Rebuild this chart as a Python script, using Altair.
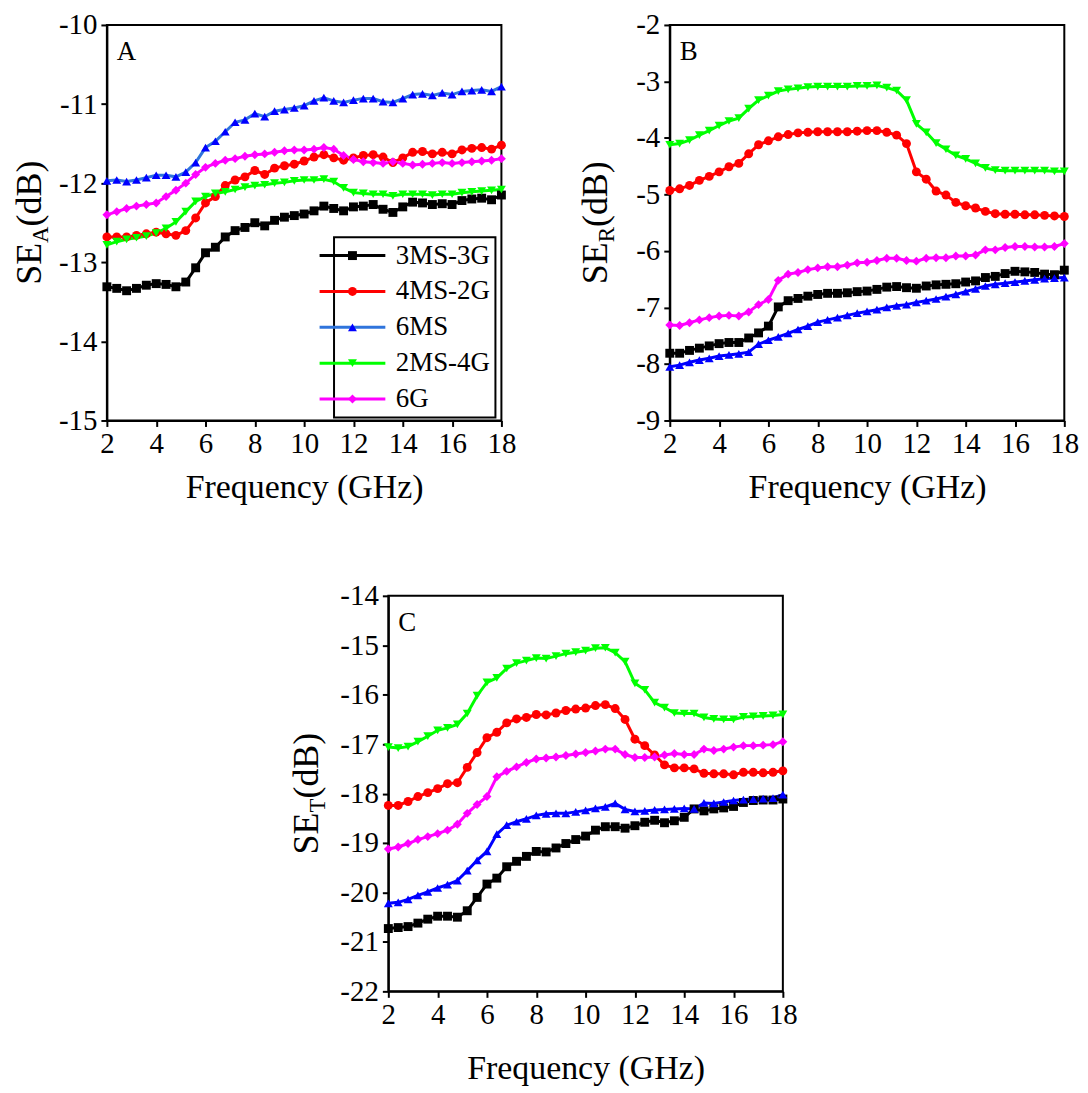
import altair as alt
import pandas as pd

FONT = "Liberation Serif"

freq = [2.0, 2.4, 2.8, 3.2, 3.6, 4.0, 4.4, 4.8, 5.2, 5.6,
        6.0, 6.4, 6.8, 7.2, 7.6, 8.0, 8.4, 8.8, 9.2, 9.6,
        10.0, 10.4, 10.8, 11.2, 11.6, 12.0, 12.4, 12.8, 13.2, 13.6,
        14.0, 14.4, 14.8, 15.2, 15.6, 16.0, 16.4, 16.8, 17.2, 17.6,
        18.0]

names = ["3MS-3G", "4MS-2G", "6MS", "2MS-4G", "6G"]
colors = ["#000000", "#ff0000", "#0000ff", "#00ff00", "#ff00ff"]
line_colors_a = ["#000000", "#ff0000", "#2f74dc", "#00ff00", "#ff00ff"]
shapes = ["square", "circle", "triangle-up", "triangle-down", "diamond"]

# ---- Panel A : SE_A ----
sea_3ms3g = [-13.31, -13.33, -13.36, -13.33, -13.29, -13.27, -13.28, -13.31, -13.25, -13.07,
             -12.88, -12.81, -12.68, -12.60, -12.56, -12.50, -12.54, -12.47, -12.43, -12.41,
             -12.39, -12.35, -12.29, -12.32, -12.35, -12.30, -12.29, -12.27, -12.33, -12.37,
             -12.30, -12.24, -12.25, -12.27, -12.26, -12.27, -12.22, -12.20, -12.19, -12.21,
             -12.15]
sea_4ms2g = [-12.68, -12.68, -12.68, -12.66, -12.64, -12.62, -12.64, -12.66, -12.60, -12.44,
             -12.25, -12.17, -12.03, -11.96, -11.92, -11.84, -11.89, -11.81, -11.78, -11.76,
             -11.72, -11.67, -11.64, -11.68, -11.71, -11.68, -11.65, -11.64, -11.67, -11.74,
             -11.68, -11.61, -11.60, -11.63, -11.61, -11.63, -11.58, -11.56, -11.55, -11.57,
             -11.52]
sea_6ms = [-11.97, -11.96, -11.98, -11.96, -11.93, -11.90, -11.90, -11.92, -11.86, -11.74,
           -11.55, -11.47, -11.35, -11.23, -11.20, -11.12, -11.16, -11.09, -11.07, -11.05,
           -11.02, -10.96, -10.92, -10.96, -10.98, -10.95, -10.93, -10.93, -10.97, -10.98,
           -10.93, -10.88, -10.87, -10.89, -10.86, -10.88, -10.84, -10.83, -10.82, -10.84,
           -10.78]
sea_2ms4g = [-12.78, -12.74, -12.71, -12.69, -12.67, -12.63, -12.57, -12.49, -12.36, -12.23,
             -12.17, -12.13, -12.11, -12.08, -12.05, -12.03, -12.02, -12.00, -11.99, -11.97,
             -11.96, -11.96, -11.95, -11.98, -12.06, -12.12, -12.13, -12.14, -12.14, -12.16,
             -12.14, -12.14, -12.14, -12.15, -12.14, -12.14, -12.12, -12.11, -12.10, -12.09,
             -12.08]
sea_6g = [-12.40, -12.36, -12.32, -12.29, -12.27, -12.25, -12.17, -12.09, -12.00, -11.89,
          -11.80, -11.75, -11.71, -11.69, -11.66, -11.64, -11.63, -11.61, -11.59, -11.58,
          -11.58, -11.57, -11.55, -11.57, -11.65, -11.70, -11.73, -11.74, -11.75, -11.73,
          -11.75, -11.77, -11.76, -11.75, -11.74, -11.75, -11.74, -11.73, -11.72, -11.71,
          -11.69]

# ---- Panel B : SE_R ----
ser_3ms3g = [-7.81, -7.81, -7.76, -7.72, -7.68, -7.64, -7.62, -7.62, -7.54, -7.45,
             -7.33, -6.99, -6.88, -6.84, -6.80, -6.77, -6.75, -6.75, -6.74, -6.72,
             -6.71, -6.68, -6.64, -6.63, -6.65, -6.66, -6.62, -6.60, -6.59, -6.58,
             -6.55, -6.53, -6.47, -6.45, -6.40, -6.36, -6.37, -6.38, -6.41, -6.42,
             -6.34]
ser_4ms2g = [-4.93, -4.90, -4.84, -4.75, -4.68, -4.60, -4.51, -4.45, -4.28, -4.12,
             -4.05, -3.98, -3.94, -3.91, -3.90, -3.89, -3.89, -3.89, -3.89, -3.88,
             -3.87, -3.87, -3.90, -3.95, -4.10, -4.60, -4.73, -4.94, -5.01, -5.14,
             -5.20, -5.24, -5.30, -5.34, -5.35, -5.35, -5.36, -5.36, -5.37, -5.38,
             -5.39]
ser_6ms = [-8.05, -8.02, -7.97, -7.93, -7.90, -7.86, -7.84, -7.82, -7.79, -7.65,
           -7.58, -7.52, -7.46, -7.39, -7.33, -7.26, -7.22, -7.18, -7.14, -7.10,
           -7.07, -7.04, -7.00, -6.97, -6.95, -6.91, -6.88, -6.85, -6.81, -6.77,
           -6.72, -6.67, -6.62, -6.59, -6.57, -6.55, -6.53, -6.51, -6.49, -6.48,
           -6.47]
ser_2ms4g = [-4.12, -4.10, -4.04, -3.95, -3.87, -3.78, -3.70, -3.65, -3.48, -3.33,
             -3.25, -3.17, -3.14, -3.12, -3.10, -3.09, -3.09, -3.09, -3.09, -3.08,
             -3.08, -3.07, -3.11, -3.16, -3.33, -3.75, -3.90, -4.09, -4.20, -4.31,
             -4.37, -4.45, -4.53, -4.57, -4.58, -4.58, -4.58, -4.58, -4.58, -4.59,
             -4.59]
ser_6g = [-7.31, -7.32, -7.27, -7.22, -7.18, -7.15, -7.14, -7.15, -7.08, -6.95,
          -6.86, -6.52, -6.41, -6.38, -6.33, -6.30, -6.28, -6.28, -6.25, -6.21,
          -6.20, -6.17, -6.13, -6.13, -6.17, -6.18, -6.13, -6.12, -6.12, -6.09,
          -6.09, -6.07, -5.98, -5.98, -5.94, -5.92, -5.92, -5.93, -5.93, -5.92,
          -5.87]

# ---- Panel C : SE_T ----
set_3ms3g = [-20.73, -20.71, -20.69, -20.62, -20.54, -20.48, -20.48, -20.50, -20.37, -20.10,
             -19.83, -19.71, -19.48, -19.37, -19.27, -19.17, -19.18, -19.10, -19.01, -18.93,
             -18.86, -18.74, -18.67, -18.67, -18.70, -18.65, -18.58, -18.54, -18.59, -18.55,
             -18.48, -18.31, -18.35, -18.31, -18.29, -18.26, -18.18, -18.14, -18.13, -18.13,
             -18.11]
set_4ms2g = [-18.24, -18.24, -18.16, -18.06, -17.98, -17.90, -17.80, -17.78, -17.47, -17.17,
             -16.87, -16.76, -16.57, -16.49, -16.46, -16.40, -16.41, -16.37, -16.32, -16.29,
             -16.27, -16.22, -16.20, -16.28, -16.50, -16.90, -17.03, -17.22, -17.42, -17.48,
             -17.48, -17.50, -17.59, -17.60, -17.60, -17.62, -17.57, -17.57, -17.58, -17.57,
             -17.54]
set_6ms = [-20.22, -20.20, -20.14, -20.06, -19.99, -19.91, -19.84, -19.76, -19.56, -19.35,
           -19.17, -18.82, -18.64, -18.57, -18.51, -18.44, -18.41, -18.40, -18.40, -18.37,
           -18.34, -18.30, -18.27, -18.20, -18.32, -18.36, -18.35, -18.33, -18.32, -18.31,
           -18.30, -18.31, -18.19, -18.20, -18.17, -18.14, -18.12, -18.11, -18.10, -18.09,
           -18.02]
set_2ms4g = [-17.06, -17.08, -17.05, -16.95, -16.84, -16.72, -16.67, -16.60, -16.38, -16.02,
             -15.75, -15.66, -15.47, -15.36, -15.31, -15.26, -15.27, -15.22, -15.17, -15.14,
             -15.11, -15.06, -15.05, -15.15, -15.33, -15.77, -15.90, -16.16, -16.26, -16.37,
             -16.38, -16.38, -16.46, -16.49, -16.50, -16.50, -16.45, -16.44, -16.43, -16.42,
             -16.40]
set_6g = [-19.12, -19.08, -19.01, -18.93, -18.87, -18.81, -18.74, -18.62, -18.40, -18.22,
          -18.06, -17.66, -17.55, -17.46, -17.37, -17.30, -17.28, -17.26, -17.23, -17.20,
          -17.17, -17.14, -17.10, -17.10, -17.21, -17.27, -17.27, -17.26, -17.22, -17.19,
          -17.21, -17.21, -17.10, -17.13, -17.10, -17.06, -17.03, -17.03, -17.02, -17.01,
          -16.95]

x_ticks = [2, 3, 4, 5, 6, 7, 8, 9, 10, 11, 12, 13, 14, 15, 16, 17, 18]

W, H = 396, 397
LABEL_FS = 29
LEGEND_FS = 27
TITLE_FS = 34


def long_df(series):
    rows = []
    for name, vals in zip(names, series):
        for f, v in zip(freq, vals):
            rows.append({"f": f, "v": v, "s": name, "s2": name})
    return pd.DataFrame(rows)


def text_layer(txt, size, x, y, angle=0):
    kw = dict(font=FONT, fontSize=size, align="left", baseline="alphabetic", color="black")
    if angle:
        kw["angle"] = angle
    return alt.Chart(pd.DataFrame({"t": [txt]})).mark_text(**kw).encode(
        text="t:N", x=alt.value(x), y=alt.value(y))


def panel(series, ymin, ymax, letter, sub, base_x, line_cols, legend=False, title_pad=12):
    df = long_df(series)
    yvals = [ymin + 0.5 * i for i in range(int(round((ymax - ymin) * 2)) + 1)]
    xaxis = alt.Axis(values=x_ticks, title="Frequency (GHz)",
                     labelExpr="datum.value % 2 == 0 ? toString(datum.value) : ''",
                     tickSize={"condition": {"test": "datum.value % 2 == 0", "value": 6}, "value": 3},
                     labelFlush=False, labelPadding=3, titlePadding=title_pad,
                     labelFont=FONT, labelFontSize=LABEL_FS, labelColor="black",
                     titleFont=FONT, titleFontSize=TITLE_FS, titleFontWeight="normal",
                     titleColor="black")
    yaxis = alt.Axis(values=yvals, title=None,
                     labelExpr="datum.value % 1 == 0 ? toString(datum.value) : ''",
                     tickSize={"condition": {"test": "datum.value % 1 == 0", "value": 6}, "value": 3},
                     labelPadding=4, labelFont=FONT, labelFontSize=LABEL_FS, labelColor="black")
    xs = alt.Scale(domain=[2, 18], nice=False)
    ys = alt.Scale(domain=[ymin, ymax], nice=False)

    if legend:
        line_leg = alt.Legend(title=None, orient="none", legendX=228, legendY=213,
                              symbolType="M-8.25,0H8.25", symbolSize=64, symbolStrokeWidth=3,
                              labelFont=FONT, labelFontSize=LEGEND_FS, labelColor="black",
                              labelOffset=30, padding=5, rowPadding=8,
                              strokeColor="black")
        pt_leg = alt.Legend(title=None, orient="none", legendX=228, legendY=213,
                            symbolSize=80, labelFont=FONT, labelFontSize=LEGEND_FS,
                            labelOpacity=0, labelOffset=30, padding=5, rowPadding=8)
        lc = alt.Color("s:N", scale=alt.Scale(domain=names, range=line_cols), legend=line_leg)
        pc = alt.Color("s2:N", scale=alt.Scale(domain=names, range=colors), legend=pt_leg)
        ps = alt.Shape("s2:N", scale=alt.Scale(domain=names, range=shapes), legend=pt_leg)
    else:
        lc = alt.Color("s:N", scale=alt.Scale(domain=names, range=line_cols), legend=None)
        pc = alt.Color("s2:N", scale=alt.Scale(domain=names, range=colors), legend=None)
        ps = alt.Shape("s2:N", scale=alt.Scale(domain=names, range=shapes), legend=None)

    line = alt.Chart(df).mark_line(strokeWidth=3).encode(
        x=alt.X("f:Q", scale=xs, axis=xaxis),
        y=alt.Y("v:Q", scale=ys, axis=yaxis),
        color=lc,
    )
    pts = alt.Chart(df).mark_point(filled=True, size=80, opacity=1).encode(
        x=alt.X("f:Q", scale=xs),
        y=alt.Y("v:Q", scale=ys),
        color=pc,
        shape=ps,
    )

    # y-axis title with subscript: SE_sub(dB)
    fs, sfs = 36, 23
    w_se = 1.167 * fs
    w_sub = {"A": 0.722, "R": 0.667, "T": 0.611}[sub] * sfs
    w_db = 1.833 * fs
    L = w_se + w_sub + w_db
    y0 = H / 2 + L / 2
    t1 = text_layer("SE", fs, base_x, y0, 270)
    t2 = text_layer(sub, sfs, base_x + 7, y0 - w_se, 270)
    t3 = text_layer("(dB)", fs, base_x, y0 - w_se - w_sub, 270)
    lt = text_layer(letter, 27, 10, 35)

    ch = alt.layer(line, pts, lt, t1, t2, t3).resolve_scale(color="independent", shape="independent")
    return ch.properties(width=W, height=H,
                         view=alt.ViewBackground(stroke="black", strokeWidth=2, strokeOpacity=1))


pA = panel([sea_3ms3g, sea_4ms2g, sea_6ms, sea_2ms4g, sea_6g], -15, -10, "A", "A", -66,
           line_colors_a, legend=True)
pB = panel([ser_3ms3g, ser_4ms2g, ser_6ms, ser_2ms4g, ser_6g], -9, -2, "B", "R", -63, colors)
pC = panel([set_3ms3g, set_4ms2g, set_6ms, set_2ms4g, set_6g], -22, -14, "C", "T", -71, colors,
           title_pad=22)

top = alt.hconcat(pA, pB, spacing=60)

chart = alt.vconcat(top, pC, spacing=76, center=True).properties(
    padding={"left": 3, "top": 0, "right": 0, "bottom": 0}
).configure(
    font=FONT
).configure_view(
    strokeOpacity=0
).configure_axis(
    grid=False, domainColor="black", domainWidth=2, tickColor="black", tickWidth=2,
    labelFont=FONT, labelFontSize=LABEL_FS, labelColor="black",
    titleFont=FONT, titleFontSize=TITLE_FS, titleFontWeight="normal", titleColor="black",
).configure_legend(strokeWidth=2, labelFont=FONT)

chart.save("out.html", embed_options={"renderer": "svg", "actions": False})
